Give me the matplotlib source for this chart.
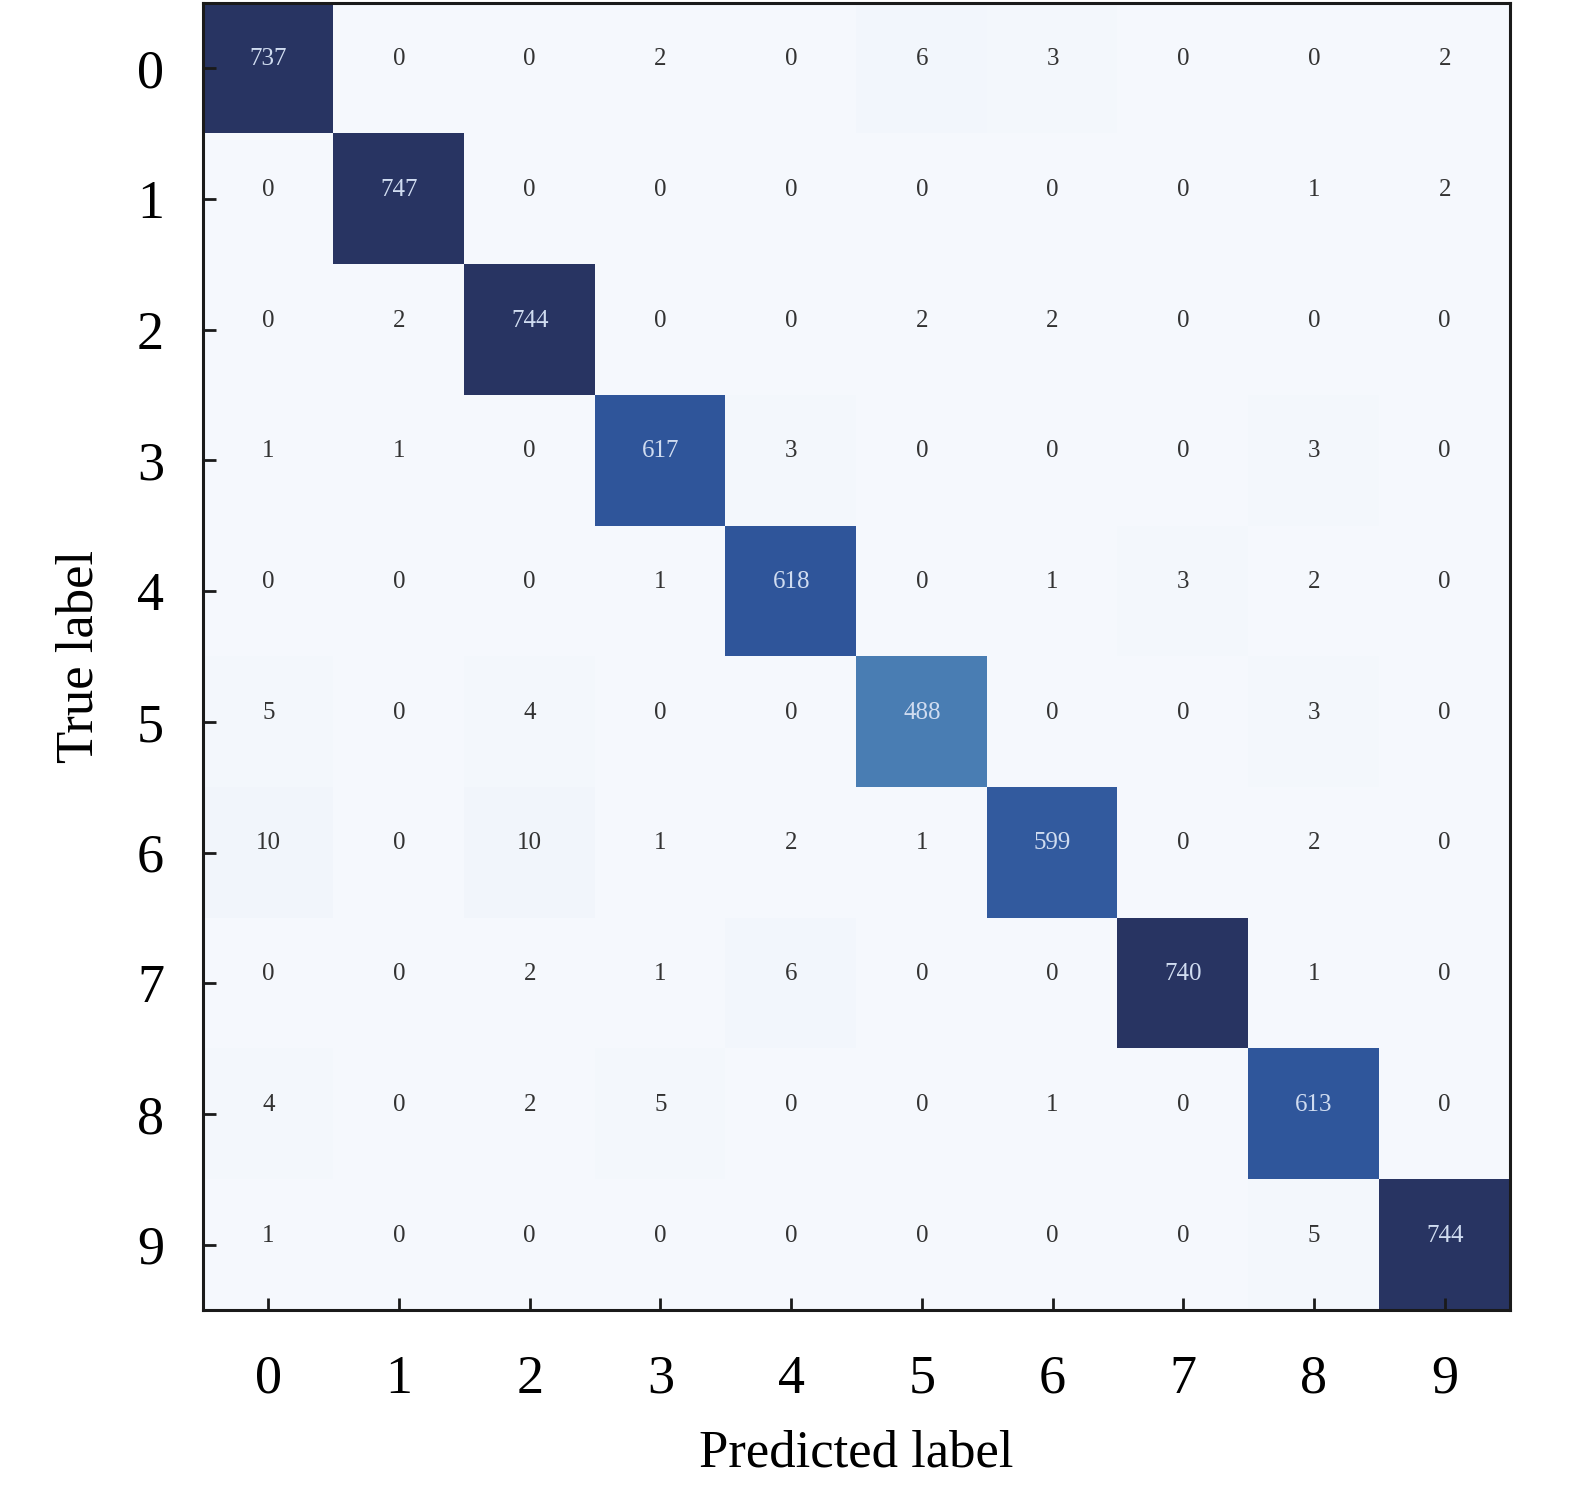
"""
Confusion matrix figure.
"""

import matplotlib
matplotlib.use("Agg")
import matplotlib.pyplot as plt
from matplotlib.colors import LinearSegmentedColormap
import numpy as np

classes = ["0", "1", "2", "3", "4", "5", "6", "7", "8", "9"]

# rows = true label, columns = predicted label
row_0 = [737, 0, 0, 2, 0, 6, 3, 0, 0, 2]
row_1 = [0, 747, 0, 0, 0, 0, 0, 0, 1, 2]
row_2 = [0, 2, 744, 0, 0, 2, 2, 0, 0, 0]
row_3 = [1, 1, 0, 617, 3, 0, 0, 0, 3, 0]
row_4 = [0, 0, 0, 1, 618, 0, 1, 3, 2, 0]
row_5 = [5, 0, 4, 0, 0, 488, 0, 0, 3, 0]
row_6 = [10, 0, 10, 1, 2, 1, 599, 0, 2, 0]
row_7 = [0, 0, 2, 1, 6, 0, 0, 740, 1, 0]
row_8 = [4, 0, 2, 5, 0, 0, 1, 0, 613, 0]
row_9 = [1, 0, 0, 0, 0, 0, 0, 0, 5, 744]

cm = np.array([row_0, row_1, row_2, row_3, row_4, row_5, row_6, row_7, row_8, row_9])

cmap = LinearSegmentedColormap.from_list(
    "cm_blues",
    [(0.0, "#f5f8fd"), (0.65, "#4a7fb4"), (0.80, "#335b9f"),
     (0.83, "#2f559a"), (0.97, "#283562"), (1.0, "#283462")],
)

plt.rcParams["font.family"] = ["Liberation Serif", "DejaVu Serif"]

fig = plt.figure(figsize=(15.75, 14.87), dpi=100)
ax = fig.add_axes([203 / 1575, 1 - 1310 / 1487, 1307 / 1575, 1307 / 1487])

ax.imshow(cm, cmap=cmap, vmin=0, vmax=cm.max(), interpolation="nearest", aspect="auto")

thresh = cm.max() / 2
for i in range(cm.shape[0]):
    for j in range(cm.shape[1]):
        # numbers sit a little above the cell centre in the original
        ax.text(j, i - 0.07, str(cm[i, j]), ha="center", va="center", fontsize=18,
                color="#d0dcf0" if cm[i, j] > thresh else "#333333")

ax.set_xticks(np.arange(len(classes)))
ax.set_yticks(np.arange(len(classes)))
ax.set_xticklabels(classes, fontsize=39)
ax.set_yticklabels(classes, fontsize=39)
ax.tick_params(direction="in", length=9, width=2, color="#1a1a1a")
ax.tick_params(axis="x", pad=32)
ax.tick_params(axis="y", pad=28)
ax.set_xlabel("Predicted label", fontsize=38, labelpad=18)
ax.set_ylabel("True label", fontsize=38, labelpad=24)
for spine in ax.spines.values():
    spine.set_linewidth(2.2)
    spine.set_color("#1a1a1a")

plt.savefig("out.png", dpi=100)
